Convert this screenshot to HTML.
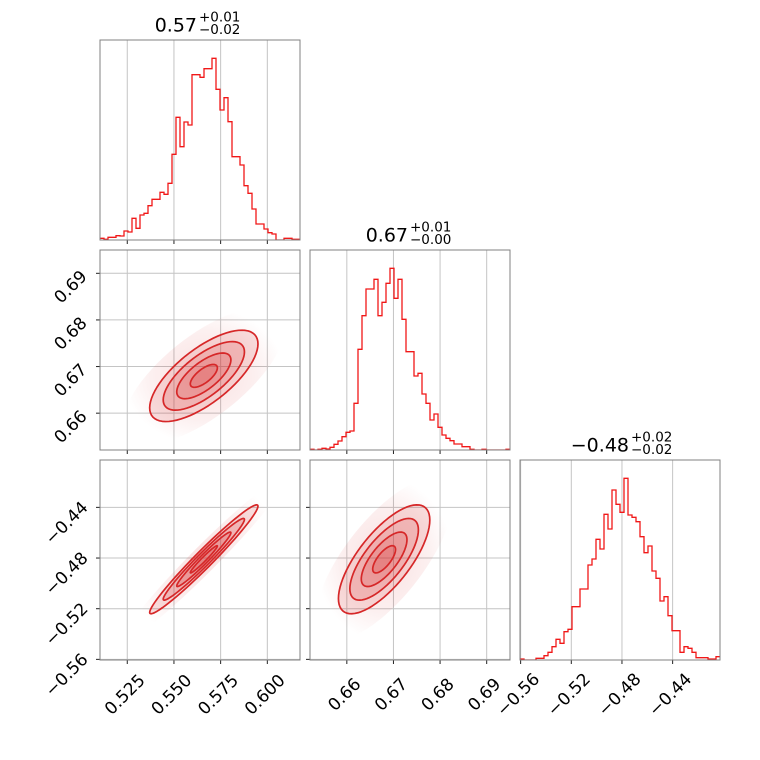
<!DOCTYPE html>
<html><head><meta charset="utf-8"><style>
html,body{margin:0;padding:0;background:#fff;}
svg{display:block;font-family:"DejaVu Sans","Liberation Sans",sans-serif;}
</style></head><body>
<svg id="c" width="760" height="760" viewBox="0 0 760 760" xmlns="http://www.w3.org/2000/svg"></svg>
<script>
// ---- data ----
const paramRanges = [[0.5104, 0.6175], [0.6521, 0.695], [-0.5605, -0.4026]];
const ticks0 = [0.525, 0.550, 0.575, 0.600];
const ticks1 = [0.66, 0.67, 0.68, 0.69];
const ticks2 = [-0.56, -0.52, -0.48, -0.44];
const tickLabels0 = ["0.525", "0.550", "0.575", "0.600"];
const tickLabels1 = ["0.66", "0.67", "0.68", "0.69"];
const tickLabels2 = ["\u22120.56", "\u22120.52", "\u22120.48", "\u22120.44"];
const hist0 = [5,2,8,8,13,12,27,24,65,35,75,80,103,122,122,143,137,170,257,368,280,354,345,496,496,488,514,514,545,452,390,427,355,250,250,225,163,140,93,48,48,33,22,18,0,0,5,5,2,2];
const hist1 = [2,0,2,5,3,8,17,27,40,53,57,140,302,403,483,483,512,403,443,500,545,455,512,392,295,295,222,230,168,140,90,108,68,45,35,28,18,18,10,10,2,0,0,2,0,0,0,0,0,2];
const hist2 = [3,0,0,0,5,5,13,23,40,62,50,85,92,160,160,213,213,285,303,362,333,437,393,510,467,443,545,435,428,415,370,322,342,267,245,177,190,133,88,88,23,40,35,23,7,7,7,3,3,10];
const histMax = 600;
const means = [0.566, 0.668, -0.481];
const sigmas = [0.0145, 0.0049, 0.0215];
const corr01 = 0.70;
const corr02 = 0.975;
const corr12 = 0.72;
const contourLevels = [2.0, 1.5, 1.0, 0.5];
const titleMain = ["0.57", "0.67", "\u22120.48"];
const titleUp = ["+0.01", "+0.01", "+0.02"];
const titleDown = ["\u22120.02", "\u22120.00", "\u22120.02"];

// ---- layout ----
const svg = document.getElementById('c');
const NS = 'http://www.w3.org/2000/svg';
const colX = [100, 310, 520], rowY = [40, 250, 460], S = 200;
const allTicks = [ticks0, ticks1, ticks2];
const allLabels = [tickLabels0, tickLabels1, tickLabels2];
const hists = [hist0, hist1, hist2];
const RED = '#d62728', HRED = '#f01818';
function mk(tag, attrs, parent) {
  const e = document.createElementNS(NS, tag);
  for (const k in attrs) e.setAttribute(k, attrs[k]);
  (parent || svg).appendChild(e);
  return e;
}
function xs(p, col) { const r = paramRanges[p]; return v => colX[col] + (v - r[0]) / (r[1] - r[0]) * S; }
function ys(p, row) { const r = paramRanges[p]; return v => rowY[row] + S - (v - r[0]) / (r[1] - r[0]) * S; }
function yh(row) { return c => rowY[row] + S - c / histMax * S; }

const defs = mk('defs', {});
for (let i = 0; i < 3; i++) {
  for (let j = 0; j < 3; j++) {
    const cp = mk('clipPath', { id: 'cp' + i + j }, defs);
    mk('rect', { x: colX[j], y: rowY[i], width: S, height: S }, cp);
  }
}
const rg = mk('radialGradient', { id: 'cloud' }, defs);
mk('stop', { offset: '0%', 'stop-color': RED, 'stop-opacity': '0.14' }, rg);
mk('stop', { offset: '65%', 'stop-color': RED, 'stop-opacity': '0.07' }, rg);
mk('stop', { offset: '100%', 'stop-color': RED, 'stop-opacity': '0' }, rg);

function gridAndFrame(row, col, xp, yp) {
  const g = mk('g', {});
  
  
  const X = xs(xp, col);
  allTicks[xp].forEach(t => {
    const x = X(t);
    const l = mk('line', { x1: x, x2: x, y1: rowY[row], y2: rowY[row] + S, stroke: '#c4c4c4', 'stroke-width': 1 }, g);
    
    
    mk('line', { x1: x, x2: x, y1: rowY[row] + S, y2: rowY[row] + S + 4, stroke: '#222', 'stroke-width': 1 }, g);
  });
  if (yp !== null) {
    const Y = ys(yp, row);
    allTicks[yp].forEach(t => {
      const y = Y(t);
      const l = mk('line', { x1: colX[col], x2: colX[col] + S, y1: y, y2: y, stroke: '#c4c4c4', 'stroke-width': 1 }, g);
      
      
      mk('line', { x1: colX[col] - 4, x2: colX[col], y1: y, y2: y, stroke: '#222', 'stroke-width': 1 }, g);
    });
  }
  return g;
}
function frame(row, col) {
  const r = mk('rect', { x: colX[col], y: rowY[row], width: S, height: S, fill: 'none', stroke: '#808080', 'stroke-width': 1 });
  
  
}

for (let k = 0; k < 3; k++) {
  gridAndFrame(k, k, k, null);
  const X = xs(k, k), Y = yh(k), h = hists[k], r = paramRanges[k];
  const n = h.length, w = (r[1] - r[0]) / n;
  let d = '';
  for (let i = 0; i < n; i++) {
    const x0 = X(r[0] + i * w), x1 = X(r[0] + (i + 1) * w), y = Y(h[i]);
    d += (i === 0 ? 'M' : 'L') + x0.toFixed(2) + ',' + y.toFixed(2) + 'L' + x1.toFixed(2) + ',' + y.toFixed(2);
  }
  const p = mk('path', { d: d, fill: 'none', stroke: HRED, 'stroke-width': 1.3, 'clip-path': 'url(#cp' + k + k + ')' });
  
  
  frame(k, k);
}

function ellipsePts(xp, yp, rho, rad, X, Y) {
  const pts = [];
  for (let i = 0; i <= 72; i++) {
    const t = i / 72 * 2 * Math.PI;
    const dx = rad * sigmas[xp] * Math.cos(t);
    const dy = rad * sigmas[yp] * (rho * Math.cos(t) + Math.sqrt(1 - rho * rho) * Math.sin(t));
    pts.push(X(means[xp] + dx).toFixed(2) + ',' + Y(means[yp] + dy).toFixed(2));
  }
  return pts.join(' ');
}
function panel2d(row, col, xp, yp, rho) {
  gridAndFrame(row, col, xp, yp);
  const X = xs(xp, col), Y = ys(yp, row);
  const g = mk('g', { 'clip-path': 'url(#cp' + row + col + ')' });
  
  
  const cl = mk('polygon', { points: ellipsePts(xp, yp, rho, 3.0, X, Y), fill: 'url(#cloud)' }, g);
  
  
  contourLevels.forEach((lv, i) => {
    const e = mk('polygon', { points: ellipsePts(xp, yp, rho, lv, X, Y), fill: RED, 'fill-opacity': i === 0 ? 0.14 : 0.17, stroke: RED, 'stroke-width': 1.7, 'stroke-linejoin': 'round' }, g);
    
    
  });
  frame(row, col);
}
panel2d(1, 0, 0, 1, corr01);
panel2d(2, 0, 0, 2, corr02);
panel2d(2, 1, 1, 2, corr12);

for (let col = 0; col < 3; col++) {
  const X = xs(col, col);
  allTicks[col].forEach((t, i) => {
    const cx = X(t) - 2, cy = 695;
    const tx = mk('text', { x: cx, y: cy, 'text-anchor': 'middle', 'dominant-baseline': 'central', 'font-size': 17, fill: '#000', transform: 'rotate(-45 ' + cx + ' ' + cy + ')' });
    tx.textContent = allLabels[col][i];
    
    
  });
}
[[1, 1], [2, 2]].forEach(([row, p]) => {
  const Y = ys(p, row);
  allTicks[p].forEach((t, i) => {
    const len = allLabels[p][i].length;
    const cx = len > 4 ? 67 : 71, cy = Y(t) + (len > 4 ? 16 : 14);
    const tx = mk('text', { x: cx, y: cy, 'text-anchor': 'middle', 'dominant-baseline': 'central', 'font-size': 17, fill: '#000', transform: 'rotate(-45 ' + cx + ' ' + cy + ')' });
    tx.textContent = allLabels[p][i];
    
    
  });
});

const titleSplit = [[197, 199], [408, 410], [629, 631]];
for (let k = 0; k < 3; k++) {
  const base = rowY[k] - 8.5;
  const g = mk('g', {});
  
  
  const m = mk('text', { x: titleSplit[k][0], y: base, 'text-anchor': 'end', 'font-size': 19, fill: '#000' }, g);
  m.textContent = titleMain[k];
  const u = mk('text', { x: titleSplit[k][1], y: base - 10, 'font-size': 13.5, fill: '#000' }, g);
  u.textContent = titleUp[k];
  const d = mk('text', { x: titleSplit[k][1], y: base + 2.5, 'font-size': 13.5, fill: '#000' }, g);
  d.textContent = titleDown[k];
}
</script>
</body></html>
